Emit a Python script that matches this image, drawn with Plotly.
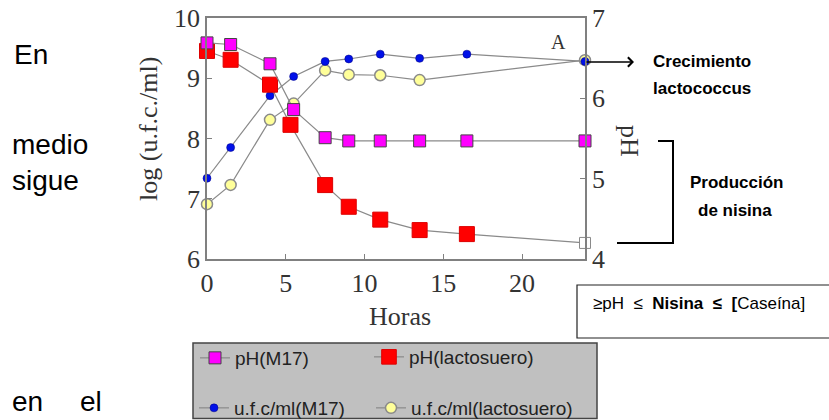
import plotly.graph_objects as go

# ---- data ----
horas_ufc_m17 = [0, 1.5, 4, 5.5, 7.5, 9, 11, 13.5, 16.5, 24]
ufc_m17 = [7.34, 7.85, 8.71, 9.03, 9.28, 9.32, 9.40, 9.33, 9.40, 9.28]

horas_ufc_lacto = [0, 1.5, 4, 5.5, 7.5, 9, 11, 13.5, 24]
ufc_lacto = [6.91, 7.23, 8.31, 8.58, 9.13, 9.06, 9.05, 8.97, 9.30]

horas_ph_m17 = [0, 1.5, 4, 5.5, 7.5, 9, 11, 13.5, 16.5, 24]
ph_m17 = [6.69, 6.67, 6.43, 5.86, 5.51, 5.47, 5.47, 5.47, 5.47, 5.47]

horas_ph_lacto = [0, 1.5, 4, 5.3, 7.5, 9, 11, 13.5, 16.5, 24]
ph_lacto = [6.59, 6.48, 6.17, 5.67, 4.92, 4.65, 4.49, 4.36, 4.31, 4.20]

x_ticks = [0, 5, 10, 15, 20]
y_left_ticks = [6, 7, 8, 9, 10]
y_right_ticks = [4, 5, 6, 7]

# ---- figure geometry helpers (pixel -> paper) ----
W, H = 829, 420
L, R, T, B = 207, 244, 18, 161
PW, PH = W - L - R, H - T - B


def px(x):
    return (x - L) / PW


def py(y):
    return (H - B - y) / PH


LINE = dict(color="#8a8a8a", width=1.2)
SERIF = "Liberation Serif, Times New Roman, serif"
SANS = "Liberation Sans, Arial, sans-serif"

fig = go.Figure()

fig.add_trace(go.Scatter(
    x=horas_ufc_lacto, y=ufc_lacto, mode="lines+markers", name="u.f.c/ml(lactosuero)",
    line=LINE, marker=dict(symbol="circle", size=11, color="#ffff99", opacity=1,
                           line=dict(color="#8a8a8a", width=1.5)),
    cliponaxis=False, legend="legend4"))

fig.add_trace(go.Scatter(
    x=horas_ph_lacto, y=ph_lacto, yaxis="y2", mode="lines+markers", name="pH(lactosuero)",
    line=LINE, marker=dict(symbol="square", size=[15] * 9 + [11], opacity=1,
                           color=["#ff0000"] * 9 + ["white"],
                           line=dict(color=["#dd0000"] * 9 + ["#8a8a8a"], width=1)),
    cliponaxis=False, legend="legend2"))

fig.add_trace(go.Scatter(
    x=horas_ufc_m17, y=ufc_m17, mode="lines+markers", name="u.f.c/ml(M17)",
    line=LINE, marker=dict(symbol="circle", size=8, color="#0010e8", opacity=1,
                           line=dict(color="#000080", width=0.5)),
    cliponaxis=False, legend="legend3"))

fig.add_trace(go.Scatter(
    x=horas_ph_m17, y=ph_m17, yaxis="y2", mode="lines+markers", name="pH(M17)",
    line=LINE, marker=dict(symbol="square", size=12, color="#ff00ff", opacity=1,
                           line=dict(color="#444444", width=1)),
    cliponaxis=False, legend="legend"))

axis_common = dict(
    showline=True, linecolor="#808080", linewidth=1.5,
    ticks="inside", ticklen=5, tickcolor="#808080",
    showgrid=False, zeroline=False,
    tickfont=dict(family=SERIF, size=26, color="#333333"),
)

LEG_FONT = dict(family=SANS, size=19, color="#222222")


def leg(xleft, ycenter):
    return dict(orientation="h", x=px(xleft), xanchor="left", y=py(ycenter),
                yanchor="middle", bgcolor="rgba(0,0,0,0)", borderwidth=0, font=LEG_FONT)


fig.update_layout(
    width=W, height=H,
    margin=dict(l=L, r=R, t=T, b=B, pad=0, autoexpand=False),
    paper_bgcolor="white", plot_bgcolor="white",
    xaxis=dict(range=[0, 24], tickvals=x_ticks, mirror=True, **axis_common),
    yaxis=dict(range=[6, 10], tickvals=y_left_ticks, mirror=True, **axis_common),
    yaxis2=dict(range=[4, 7], tickvals=y_right_ticks, overlaying="y", side="right",
                **axis_common),
    legend=leg(195, 358),
    legend2=leg(369, 357),
    legend3=leg(194, 408),
    legend4=leg(371, 408),
    showlegend=True,
)

shapes = [
    # legend background
    dict(type="rect", xref="paper", yref="paper", x0=px(193), x1=px(597),
         y0=py(418.5), y1=py(343), fillcolor="#c0c0c0",
         line=dict(color="#444444", width=1.5), layer="below"),
    # box with relation text
    dict(type="rect", xref="paper", yref="paper", x0=px(577), x1=px(835),
         y0=py(338), y1=py(285), fillcolor="white",
         line=dict(color="#222222", width=1.2)),
    # bracket
    dict(type="path", xref="paper", yref="paper",
         path=f"M {px(617)},{py(243)} L {px(673)},{py(243)} L {px(673)},{py(141)} L {px(658)},{py(141)}",
         line=dict(color="black", width=2)),
]
fig.update_layout(shapes=shapes)


def note(text, x, y, font, xanchor="center", **kw):
    return dict(text=text, x=px(x), y=py(y), xref="paper", yref="paper",
                xanchor=xanchor, yanchor="middle", showarrow=False, font=font, **kw)


SERIF_F = dict(family=SERIF, size=26, color="#333333")
BOLD = dict(family=SANS, size=17, color="black")
BODY = dict(family=SANS, size=28, color="black")

ann = [
    note("Horas", 400, 316, SERIF_F),
    note("log (u.f.c./ml)", 148, 129, SERIF_F, textangle=-90),
    note("pH", 630, 141, SERIF_F, textangle=90),
    note("A", 558, 42, dict(family=SERIF, size=20, color="#333333")),
    note("<b>Crecimiento</b>", 702, 61, BOLD),
    note("<b>lactococcus</b>", 702, 89, BOLD),
    note("<b>Producción</b>", 737, 182, BOLD),
    note("<b>de nisina</b>", 735, 210, BOLD),
    note("≥pH  ≤  <b>Nisina  ≤  [</b>Caseína]", 591, 303,
         dict(family=SANS, size=17, color="black"), xanchor="left"),
]
for txt, xl, yc in [("En", 12, 54), ("medio", 10, 144), ("sigue", 10, 180),
                    ("en", 10, 401), ("el", 78, 401)]:
    ann.append(note(txt, xl, yc, BODY, xanchor="left"))

# arrow
ann.append(dict(text="", x=px(634), y=py(62), xref="paper", yref="paper",
                ax=-49, ay=0, axref="pixel", ayref="pixel",
                showarrow=True, arrowhead=4, arrowsize=1.2, arrowwidth=1.5,
                arrowcolor="black"))

fig.update_layout(annotations=ann)

fig.write_html("out.html", config={"displayModeBar": False},
               post_script="document.body.style.margin='0px';")
